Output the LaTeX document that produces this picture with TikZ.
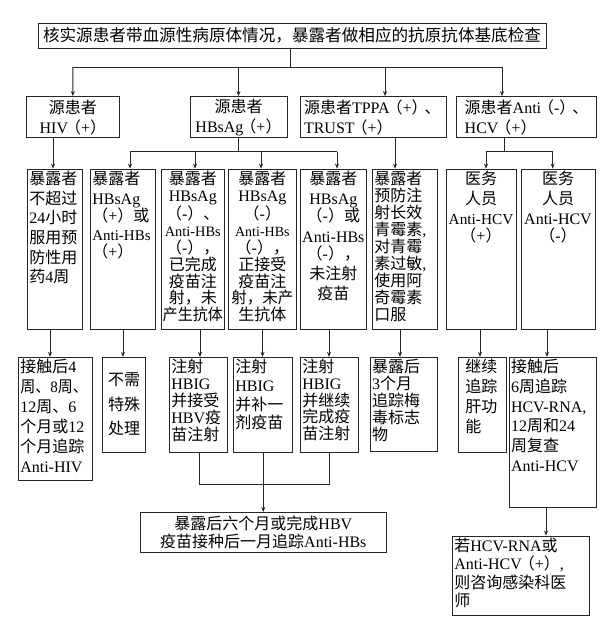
\documentclass[tikz,border=0pt]{standalone}
\usepackage{fontspec}
\usepackage{graphicx}
\setmainfont{Liberation Serif}
\newfontfamily\cjk{Noto Sans CJK SC}
\usetikzlibrary{arrows.meta}
% automatic CJK / Latin font switching
\XeTeXinterchartokenstate=1
\newXeTeXintercharclass\CJKcls
\newcount\cjkcc
\cjkcc="3000 \loop\XeTeXcharclass\cjkcc=\CJKcls \ifnum\cjkcc<"303F \advance\cjkcc 1 \repeat
\cjkcc="4E00 \loop\XeTeXcharclass\cjkcc=\CJKcls \ifnum\cjkcc<"9FFF \advance\cjkcc 1 \repeat
\cjkcc="FF00 \loop\XeTeXcharclass\cjkcc=\CJKcls \ifnum\cjkcc<"FFEF \advance\cjkcc 1 \repeat
\XeTeXinterchartoks 0 \CJKcls={\cjk}
\XeTeXinterchartoks 4095 \CJKcls={\cjk}
\XeTeXinterchartoks \CJKcls 0={\rmfamily}
\XeTeXinterchartoks 4095 0={\rmfamily}
\newcommand\pl[1]{\kern-3pt（#1）}
\newcommand\sq[2][0.9]{\scalebox{#1}[1]{#2}}
\newcommand\sm[2]{{\fontsize{#1pt}{10pt}\selectfont #2}}
\newcommand\ctr[2][0.94]{\makebox[\linewidth]{\scalebox{#1}[1]{#2}}}
\tikzset{
  box/.style={draw=black!85, line width=0.8pt, inner sep=2pt, rectangle, text=black},
  ln/.style={draw=black!85, line width=0.8pt},
  arr/.style={ln, -{Stealth[length=5pt,width=4pt]}}
}
% #1 name, #2 x1, #3 y1, #4 x2, #5 y2, #6 inner pos, #7 line skip, #8 text
\newcommand\bx[8]{%
  \pgfmathsetmacro\bxw{#4-#2-4}%
  \pgfmathsetmacro\bxh{#5-#3-4}%
  \node[box] (#1) at ({(#2+#4)/2},{(#3+#5)/2})
    {\parbox[c][\bxh pt][#6]{\bxw pt}{\fontsize{16pt}{#7pt}\selectfont #8}};%
}
\begin{document}
\begin{tikzpicture}[x=1pt,y=-1pt]
\useasboundingbox (0,0) rectangle (612,626);
% level 1
\bx{top}{38}{23}{546}{48}{c}{20}{\fontsize{16.6pt}{20pt}\selectfont\centering 核实源患者带血源性病原体情况，暴露者做相应的抗原抗体基底检查}
% level 2
\bx{hiv}{26.7}{96.5}{119}{137.7}{c}{20}{\centering 源患者\\HIV\pl{+}}
\bx{hbs}{190}{96.5}{287}{137.7}{c}{20}{\centering 源患者\\HBsAg\pl{+}}
\bx{tppa}{300}{96.5}{446.7}{137.7}{c}{20}{\raggedright\leftskip2pt 源患者TPPA\pl{+}\kern-3pt、\\TRUST\pl{+}}
\bx{hcv}{456.7}{96.5}{596.7}{137.7}{c}{20}{\raggedright\leftskip6pt 源患者Anti\pl{-}\kern-3pt、\\HCV\pl{+}}
% level 3
\bx{b1}{27.3}{169}{82.7}{329.3}{t}{19.7}{\raggedright 暴露者\\不超过\\24小时\\服用预\\防性用\\药4周}
\bx{b2}{90.3}{169}{155.7}{329.3}{t}{19.8}{\raggedright 暴露者\\HBsAg\\\pl{+}或\\\sm{15}{Anti-HBs}\\\pl{+}}
\bx{b3}{161.3}{169}{224.3}{329.3}{t}{16.9}{\centering 暴露者\\HBsAg\\（-）、\\\sm{14.4}{Anti-HBs}\\（-），\\已完成\\疫苗注\\射，未\\\ctr{产生抗体}}
\bx{b4}{228.7}{169}{296}{329.3}{t}{16.9}{\centering 暴露者\\HBsAg\\（-）\\\sm{14}{Anti-HBs}\\（-），\\正接受\\疫苗注\\\ctr[0.97]{射，未产}\\生抗体}
\bx{b5}{300}{169}{366.7}{329.3}{t}{20.2}{\centering 暴露者\\HBsAg\\\pl{-}或\\Anti-HBs\\\pl{-}，\\未注射\\疫苗}
\bx{b6}{372.3}{169}{437.3}{329.3}{t}{17}{\raggedright 暴露者\\预防注\\射长效\\青霉素,\\对青霉\\素过敏,\\使用阿\\奇霉素\\口服}
\bx{b7}{446}{169}{516}{329.3}{t}{20}{\centering 医务\\人员\\\sm{15.3}{Anti-HCV}\\\pl{+}}
\bx{b8}{521}{169}{595}{329.3}{t}{20}{\centering 医务\\人员\\Anti-HCV\\\pl{-}}
% level 4
\bx{A}{18.3}{357.3}{92.3}{480.7}{t}{20}{\raggedright 接触后4\\\sq[0.94]{周、8周、}\\12周、6\\个月或12\\个月追踪\\Anti-HIV}
\bx{B}{102.7}{357.3}{145.3}{452}{c}{24.5}{\centering 不需\\特殊\\处理}
\bx{C}{169.3}{357.3}{227.7}{452.7}{t}{17}{\raggedright 注射\\HBIG\\并接受\\HBV疫\\苗注射}
\bx{D}{233.3}{357.3}{292}{452.3}{t}{18.7}{\raggedright 注射\\HBIG\\并补一\\剂疫苗}
\bx{E}{300.3}{357.3}{358.3}{452.3}{t}{16.7}{\raggedright 注射\\HBIG\\并继续\\完成疫\\苗注射}
\bx{F}{370}{357.3}{437.3}{451.7}{t}{17}{\raggedright 暴露后\\3个月\\追踪梅\\毒标志\\物}
\bx{G}{458.3}{357.3}{506}{452.3}{t}{20}{\raggedright\leftskip5pt 继续\\追踪\\肝功\\能}
\bx{H}{509}{357.3}{596}{507.7}{t}{19.7}{\raggedright 接触后\\6周追踪\\HCV-RNA,\\12周和24\\周复查\\Anti-HCV}
% final
\bx{hbvf}{140}{512.3}{386.7}{552.7}{c}{18.3}{\centering 暴露后六个月或完成HBV\\疫苗接种后一月追踪Anti-HBs}
\bx{hcvf}{452.3}{536}{589.3}{615}{t}{18.3}{\raggedright 若HCV-RNA或\\Anti-HCV\pl{+},\\则咨询感染科医\\师}
% connectors level 1 -> 2
\coordinate (J0) at (290,67);
\coordinate (L1) at (72.85,67);
\coordinate (L3) at (385,67);
\coordinate (L4) at (502,67);
\draw[ln] (J0 |- top.south) -- (J0);
\draw[ln] (L1) -- (L4);
\draw[arr] (L1) -- (hiv.north);
\draw[arr] (hbs.north |- L1) -- (hbs.north);
\draw[arr] (L3) -- (L3 |- tppa.north);
\draw[arr] (L4) -- (L4 |- hcv.north);
% level 2 -> 3
\coordinate (M1) at (130,151.7);
\coordinate (M2) at (195,151.7);
\coordinate (M3) at (261,151.7);
\coordinate (M4) at (337,151.7);
\draw[ln] (hbs.south) -- (hbs.south |- M1);
\draw[ln] (M1) -- (M4);
\draw[arr] (M1) -- (M1 |- b2.north);
\draw[arr] (M2) -- (M2 |- b3.north);
\draw[arr] (M3) -- (M3 |- b4.north);
\draw[arr] (M4) -- (M4 |- b5.north);
\coordinate (P1) at (53,0);
\draw[arr] (P1 |- hiv.south) -- (P1 |- b1.north);
\coordinate (T1) at (395,0);
\draw[arr] (T1 |- tppa.south) -- (T1 |- b6.north);
\coordinate (N0) at (504,151.7);
\coordinate (N1) at (486,151.7);
\coordinate (N2) at (552.7,151.7);
\draw[ln] (N0 |- hcv.south) -- (N0);
\draw[ln] (N1) -- (N2);
\draw[arr] (N1) -- (N1 |- b7.north);
\draw[arr] (N2) -- (N2 |- b8.north);
% level 3 -> 4
\coordinate (Q1) at (50,0);
\coordinate (Q2) at (123,0);
\coordinate (Q3) at (200,0);
\coordinate (Q4) at (262.5,0);
\coordinate (Q5) at (329,0);
\coordinate (Q6) at (400,0);
\coordinate (Q7) at (480,0);
\coordinate (Q8) at (547,0);
\draw[arr] (Q1 |- b1.south) -- (Q1 |- A.north);
\draw[arr] (Q2 |- b2.south) -- (Q2 |- B.north);
\draw[arr] (Q3 |- b3.south) -- (Q3 |- C.north);
\draw[arr] (Q4 |- b4.south) -- (Q4 |- D.north);
\draw[arr] (Q5 |- b5.south) -- (Q5 |- E.north);
\draw[arr] (Q6 |- b6.south) -- (Q6 |- F.north);
\draw[arr] (Q7 |- b7.south) -- (Q7 |- G.north);
\draw[arr] (Q8 |- b8.south) -- (Q8 |- H.north);
% merge to HBV final
\coordinate (R1) at (199,484);
\coordinate (R2) at (263.3,484);
\coordinate (R3) at (329.3,484);
\draw[ln] (R1 |- C.south) -- (R1) -- (R3) -- (R3 |- E.south);
\draw[ln] (R2 |- D.south) -- (R2);
\draw[arr] (R2) -- (R2 |- hbvf.north);
% H -> HCV final
\coordinate (S1) at (546,0);
\draw[arr] (S1 |- H.south) -- (S1 |- hcvf.north);
\end{tikzpicture}
\end{document}
